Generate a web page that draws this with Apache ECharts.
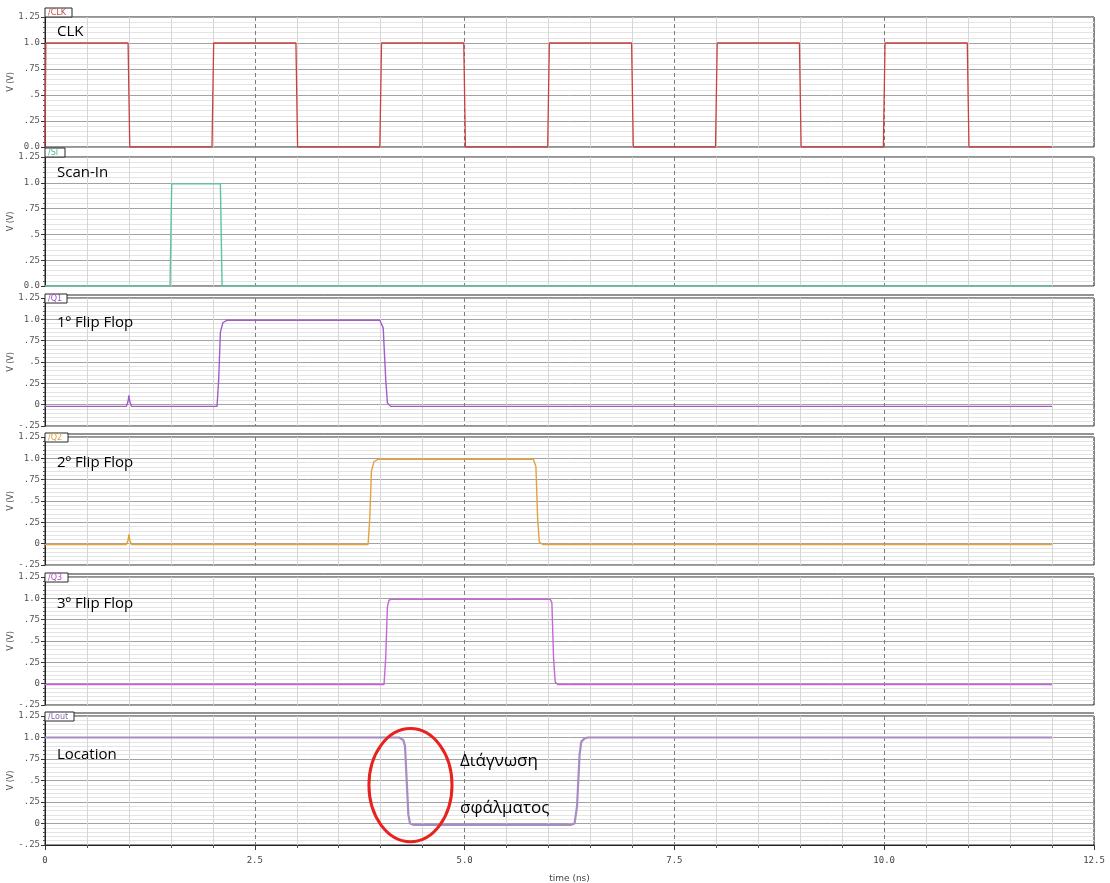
<!DOCTYPE html>
<html>
<head>
<meta charset="utf-8">
<script src="https://cdn.jsdelivr.net/npm/echarts@6/dist/echarts.min.js"></script>
<style>
  html, body { margin: 0; padding: 0; background: #fff; }
  #chart { width: 1110px; height: 883px; }
</style>
</head>
<body>
<div id="chart"></div>
<script>
// ---- Transient waveforms: time in ns, voltage in V ----
const clkTime = [0, 0.01, 0.99, 1.01, 1.99, 2.01, 2.99, 3.01, 3.99, 4.01, 4.99, 5.01, 5.99, 6.01, 6.99, 7.01, 7.99, 8.01, 8.99, 9.01, 9.99, 10.01, 10.99, 11.01, 12];
const clkVolt = [0, 1, 1, 0, 0, 1, 1, 0, 0, 1, 1, 0, 0, 1, 1, 0, 0, 1, 1, 0, 0, 1, 1, 0, 0];

const siTime = [0, 1.49, 1.51, 2.09, 2.11, 12];
const siVolt = [0, 0, 0.99, 0.99, 0, 0];

const q1Time = [0, 0.97, 0.99, 1.0, 1.01, 1.03, 2.05, 2.07, 2.09, 2.12, 2.17, 3.99, 4.01, 4.03, 4.06, 4.08, 4.12, 10.98, 11.0, 11.02, 12];
const q1Volt = [-0.02, -0.02, 0.04, 0.11, 0.04, -0.02, -0.02, 0.3, 0.85, 0.96, 0.99, 0.99, 1.0, 0.9, 0.3, 0.02, -0.02, -0.02, -0.01, -0.02, -0.02];

const q2Time = [0, 0.97, 0.99, 1.0, 1.01, 1.03, 3.85, 3.87, 3.89, 3.92, 3.97, 5.82, 5.85, 5.87, 5.89, 5.93, 10.98, 11.0, 11.02, 12];
const q2Volt = [-0.01, -0.01, 0.04, 0.11, 0.04, -0.01, -0.01, 0.3, 0.85, 0.96, 0.99, 0.99, 0.9, 0.3, 0.02, -0.01, -0.01, 0.0, -0.01, -0.01];

const q3Time = [0, 4.04, 4.06, 4.08, 4.1, 4.14, 6.02, 6.04, 6.06, 6.08, 6.11, 12];
const q3Volt = [-0.01, -0.01, 0.3, 0.9, 0.98, 0.99, 0.99, 0.95, 0.3, 0.02, -0.01, -0.01];

const loutTime = [0, 4.22, 4.27, 4.29, 4.31, 4.33, 4.35, 4.39, 6.27, 6.31, 6.34, 6.37, 6.39, 6.43, 6.47, 12];
const loutVolt = [1.0, 1.0, 0.97, 0.9, 0.5, 0.1, 0.0, -0.015, -0.015, 0.0, 0.2, 0.8, 0.95, 0.99, 1.0, 1.0];

// Signal names and panel captions
const signalNames = ['/CLK', '/SI', '/Q1', '/Q2', '/Q3', '/Lout'];
const panelCaptions = ['CLK', 'Scan-In', '1º Flip Flop', '2º Flip Flop', '3º Flip Flop', 'Location'];
const faultCaption = ['Διάγνωση', 'σφάλματος'];

// Tick labels
const xTickLabels = ['0', '2.5', '5.0', '7.5', '10.0', '12.5'];
const yTickLabelsPos = ['0.0', '.25', '.5', '.75', '1.0', '1.25'];
const yTickLabelsSigned = ['-.25', '0', '.25', '.5', '.75', '1.0', '1.25'];

// ---- Layout & style ----
const waves = [
  [clkTime, clkVolt], [siTime, siVolt], [q1Time, q1Volt],
  [q2Time, q2Volt], [q3Time, q3Volt], [loutTime, loutVolt]
];
const waveColors = ['#c8403f', '#5cc4a2', '#a35cc8', '#e2a23e', '#c466d6', '#a88cc2'];
const nameColors = ['#c0504d', '#4fb894', '#9a4fc0', '#d6a248', '#b24cc4', '#8c6aa8'];
const waveWidths = [1.3, 1.4, 1.4, 1.4, 1.4, 2.2];
const panelTop = [17, 157, 298, 437, 577, 716];
const panelHeight = [130, 129, 128, 128, 128, 129];
const captionOffset = [15, 16, 25, 26, 27, 39];
const yMin = [0, 0, -0.25, -0.25, -0.25, -0.25];
const tabWidth = [27, 20, 22, 23, 23, 29];
const plotLeft = 45, plotRight = 1094;

const grid = [], xAxis = [], yAxis = [], series = [];
waves.forEach((w, i) => {
  const last = i === waves.length - 1;
  const labels = yMin[i] === 0 ? yTickLabelsPos : yTickLabelsSigned;
  grid.push({
    left: plotLeft, width: plotRight - plotLeft, top: panelTop[i], height: panelHeight[i],
    outerBoundsMode: 'none', containLabel: false,
    show: true, borderColor: '#262626', borderWidth: 1, backgroundColor: '#fff'
  });
  xAxis.push({
    gridIndex: i, type: 'value', min: 0, max: 12.5, interval: 2.5,
    axisLine: { show: last, onZero: false, lineStyle: { color: '#222' } },
    axisTick: { show: last, length: 5, lineStyle: { color: '#333' } },
    minorTick: { show: last, splitNumber: 5, length: 3, lineStyle: { color: '#555' } },
    axisLabel: {
      show: last, margin: 11, fontSize: 9, color: '#444', fontFamily: 'DejaVu Sans Mono',
      formatter: v => xTickLabels[Math.round(v / 2.5)]
    },
    splitLine: { show: true, lineStyle: { color: '#7c7c7c', type: [4, 3], width: 1 } },
    minorSplitLine: { show: true, lineStyle: { color: '#d6d6d6', width: 1 } },
    name: last ? 'time (ns)' : '', nameLocation: 'middle', nameGap: 29, nameMoveOverlap: false,
    nameTextStyle: { fontSize: 9, color: '#444', fontFamily: 'DejaVu Sans' }
  });
  yAxis.push({
    gridIndex: i, type: 'value', min: yMin[i], max: 1.25, interval: 0.25,
    axisLine: { show: true, onZero: false, lineStyle: { color: '#222' } },
    axisTick: { show: true, length: 4, lineStyle: { color: '#333' } },
    minorTick: { show: true, splitNumber: 5, length: 2, lineStyle: { color: '#555' } },
    axisLabel: {
      margin: 5, fontSize: 9, color: '#555', fontFamily: 'DejaVu Sans Mono',
      formatter: v => labels[Math.round((v - yMin[i]) / 0.25)]
    },
    splitLine: { show: true, lineStyle: { color: '#a2a2a2', width: 1 } },
    minorSplitLine: { show: true, lineStyle: { color: '#e4e4e4', width: 1 } },
    name: 'V (V)', nameLocation: 'middle', nameRotate: 90, nameGap: 30, nameMoveOverlap: false,
    nameTextStyle: { fontSize: 8, color: '#555', fontFamily: 'DejaVu Sans' }
  });
  series.push({
    type: 'line', xAxisIndex: i, yAxisIndex: i, name: signalNames[i],
    data: w[0].map((t, k) => [t, w[1][k]]),
    symbol: 'none', showSymbol: false, z: 3,
    lineStyle: { color: waveColors[i], width: waveWidths[i] }
  });
});

const chart = echarts.init(document.getElementById('chart'), null, { renderer: 'canvas' });
chart.setOption({
  animation: false,
  backgroundColor: '#fff',
  grid, xAxis, yAxis, series
});

// ---- Panel tabs, captions and the fault annotation ----
const graphic = [];
waves.forEach((w, i) => {
  const top = panelTop[i];
  const tabTop = i < 2 ? top - 9 : top - 4;
  if (i >= 2) {
    graphic.push({
      type: 'line', z: 10,
      shape: { x1: plotLeft + tabWidth[i], y1: top - 3, x2: plotRight, y2: top - 3 },
      style: { stroke: '#262626', lineWidth: 1 }
    });
  }
  graphic.push({
    type: 'rect', z: 11,
    shape: { x: plotLeft, y: tabTop, width: tabWidth[i], height: 9 },
    style: { fill: '#fff', stroke: '#262626', lineWidth: 1 }
  });
  graphic.push({
    type: 'text', z: 12, x: plotLeft + 3, y: tabTop + 5,
    style: {
      text: signalNames[i], fill: nameColors[i], fontSize: 8,
      fontFamily: 'DejaVu Sans', verticalAlign: 'middle'
    }
  });
  graphic.push({
    type: 'text', z: 12, x: 57, y: top + captionOffset[i],
    style: {
      text: panelCaptions[i], fill: '#000', fontSize: 15,
      fontFamily: 'Open Sans', verticalAlign: 'middle'
    }
  });
});

// Red ring around the Lout falling edge, placed in data coordinates
const ringCenter = chart.convertToPixel({ gridIndex: 5 }, [4.355, 0.447]);
const ringEdge = chart.convertToPixel({ gridIndex: 5 }, [4.85, 1.105]);
graphic.push({
  type: 'ellipse', z: 20,
  shape: {
    cx: ringCenter[0], cy: ringCenter[1],
    rx: ringEdge[0] - ringCenter[0], ry: ringCenter[1] - ringEdge[1]
  },
  style: { fill: 'none', stroke: '#e8231e', lineWidth: 3 }
});
graphic.push({
  type: 'text', z: 20, x: 460, y: 761,
  style: { text: faultCaption[0], fill: '#000', fontSize: 17, fontFamily: 'Open Sans', verticalAlign: 'middle' }
});
graphic.push({
  type: 'text', z: 20, x: 460, y: 808,
  style: { text: faultCaption[1], fill: '#000', fontSize: 17, fontFamily: 'Open Sans', verticalAlign: 'middle' }
});

chart.setOption({ graphic });
</script>
</body>
</html>
